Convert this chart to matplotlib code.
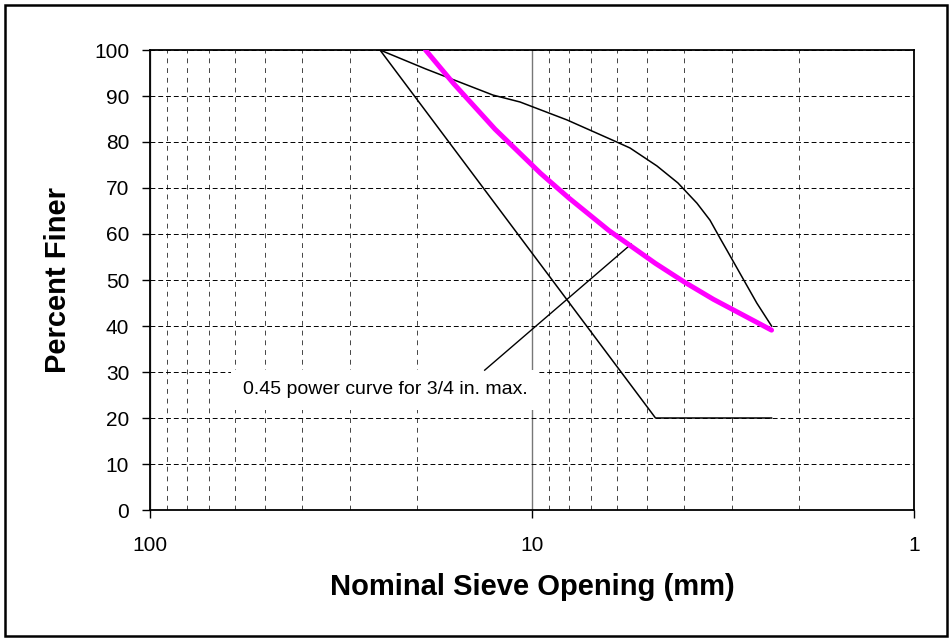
import matplotlib
matplotlib.use("Agg")
import matplotlib.pyplot as plt
from matplotlib.patches import Rectangle
from matplotlib.ticker import FixedLocator, NullFormatter

plt.rcParams['font.family'] = ['Liberation Sans', 'DejaVu Sans']

# ---- data ----
# upper black curve (sieve size mm, percent finer)
upper_size = [25, 19, 12.65, 10.75, 8.1, 6.0, 5.54, 4.71, 4.15, 3.70, 3.42, 3.22, 3.09, 2.58, 2.36]
upper_pct = [100, 95.9, 90.2, 88.7, 84.8, 80.0, 78.7, 74.8, 71.1, 66.7, 63.0, 59.1, 56.5, 45.0, 40.0]

# lower black line
lower_size = [25, 4.75, 2.36]
lower_pct = [100, 20, 20]

# 0.45 power curve (magenta)
power_size = [19, 16, 12.5, 10, 9.5, 8, 6.3, 4.75, 4, 3.35, 2.36]
power_pct = [100, 92.6, 82.8, 75.0, 73.2, 67.8, 60.8, 53.6, 49.6, 45.8, 39.1]

# annotation
note_text = "0.45 power curve for 3/4 in. max."
note_xy = (57.1, 26.1)
leader_size = [13.3, 5.5]
leader_pct = [30.4, 57.8]

x_major = [100, 10, 1]
x_major_labels = ["100", "10", "1"]
x_minor = [90, 80, 70, 60, 50, 40, 30, 20, 9, 8, 7, 6, 5, 4, 3, 2]
y_ticks = list(range(0, 101, 10))

W, H = 952, 641
fig = plt.figure(figsize=(W / 100, H / 100), dpi=100)
ax = fig.add_axes([150 / W, (H - 510) / H, (914 - 150) / W, (510 - 50) / H])

ax.set_xscale('log')
ax.set_xlim(100, 1)
ax.set_ylim(0, 100)

ax.xaxis.set_major_locator(FixedLocator(x_major))
ax.set_xticklabels(x_major_labels)
ax.xaxis.set_minor_locator(FixedLocator(x_minor))
ax.xaxis.set_minor_formatter(NullFormatter())
ax.set_yticks(y_ticks)

ax.tick_params(axis='both', which='major', direction='out', length=6, width=1.0,
               labelsize=15, colors='black')
ax.tick_params(axis='x', which='major', pad=13)
ax.tick_params(axis='y', which='major', pad=9)
ax.tick_params(axis='x', which='minor', length=0)

# grid
ax.grid(which='major', axis='y', color='black', linestyle=(0, (5, 3)), linewidth=0.7)
ax.grid(which='minor', axis='x', color='#444444', linestyle=(0, (5, 5)), linewidth=0.7)
ax.grid(which='major', axis='x', color='#777777', linestyle='-', linewidth=1.0)
ax.set_axisbelow(True)

for s in ax.spines.values():
    s.set_color('black')
    s.set_linewidth(1.3)

ax.plot(upper_size, upper_pct, color='black', linewidth=1.1, zorder=3)
ax.plot(lower_size, lower_pct, color='black', linewidth=1.1, zorder=3)
ax.plot(power_size, power_pct, color='#FF00FF', linewidth=3.6, zorder=4,
        solid_capstyle='round')

ax.text(note_xy[0], note_xy[1], note_text, fontsize=14, ha='left', va='center',
        bbox=dict(boxstyle='square,pad=0.6', facecolor='white', edgecolor='none'),
        zorder=2.5)
ax.plot(leader_size, leader_pct, color='black', linewidth=1.0, zorder=3)

ax.set_xlabel("Nominal Sieve Opening (mm)", fontsize=21, fontweight='bold', labelpad=13)
ax.set_ylabel("Percent Finer", fontsize=21, fontweight='bold', labelpad=16)

fig.patches.append(Rectangle((5 / W, 5 / H), (W - 10) / W, (H - 10) / H,
                             transform=fig.transFigure, fill=False,
                             edgecolor='black', linewidth=1.8))

fig.savefig("out.png", dpi=100)
